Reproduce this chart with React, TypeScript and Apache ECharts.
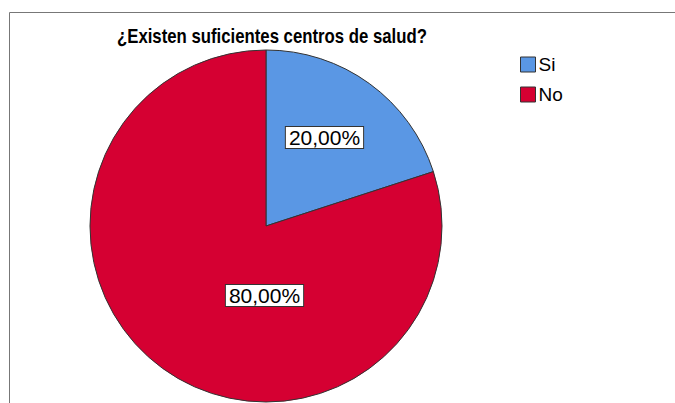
import React, { useEffect, useRef } from "react";
import * as echarts from "echarts";

const categories = ["Si", "No"];
const values = [20, 80];
const colors = ["#5A97E4", "#D50032"];
const titleText = "¿Existen suficientes centros de salud?";

export default function App() {
  const ref = useRef<HTMLDivElement>(null);
  useEffect(() => {
    if (!ref.current) return;
    const chart = echarts.init(ref.current, null, { renderer: "svg" });
    const font = "'Liberation Sans', Arial, sans-serif";
    chart.setOption({
      animation: false,
      backgroundColor: "#ffffff",
      legend: {
        orient: "vertical",
        left: 520,
        top: 55,
        padding: 0,
        itemWidth: 15,
        itemHeight: 15,
        itemGap: 11,
        icon: "rect",
        data: categories,
        itemStyle: { borderColor: "#333", borderWidth: 1 },
        textStyle: { fontSize: 19, color: "#000", fontFamily: font, padding: [0, 0, 0, -2] },
      },
      graphic: [
        {
          type: "rect",
          shape: { x: 9.5, y: 12.5, width: 700, height: 420 },
          style: { fill: "none", stroke: "#777", lineWidth: 1 },
          silent: true,
          z: -1,
        },
        {
          type: "text",
          x: 117,
          y: 26,
          scaleX: 0.838,
          silent: true,
          style: {
            text: titleText,
            fill: "#000",
            fontSize: 20,
            fontWeight: "bold",
            fontFamily: font,
            textVerticalAlign: "top",
          },
        },
      ],
      series: [
        {
          type: "pie",
          center: [266, 226],
          radius: 176,
          startAngle: 90,
          clockwise: true,
          data: categories.map((c, i) => ({ name: c, value: values[i], itemStyle: { color: colors[i] } })),
          itemStyle: { borderColor: "#333", borderWidth: 1 },
          label: {
            show: true,
            position: "inside",
            formatter: (p: any) => p.percent.toFixed(2).replace(".", ",") + "%",
            fontSize: 21,
            color: "#000",
            fontFamily: font,
            backgroundColor: "#fff",
            borderColor: "#333",
            borderWidth: 1,
            padding: [1, 3, -1, 3],
          },
          labelLayout: (p: any) => (p.dataIndex === 0 ? { dx: 5, dy: -15 } : { dx: 52, dy: -4 }),
          labelLine: { show: false },
          emphasis: { disabled: true },
        },
      ],
    });
    return () => chart.dispose();
  }, []);
  return <div ref={ref} style={{ position: "absolute", left: 0, top: 0, width: 675, height: 403 }} />;
}
